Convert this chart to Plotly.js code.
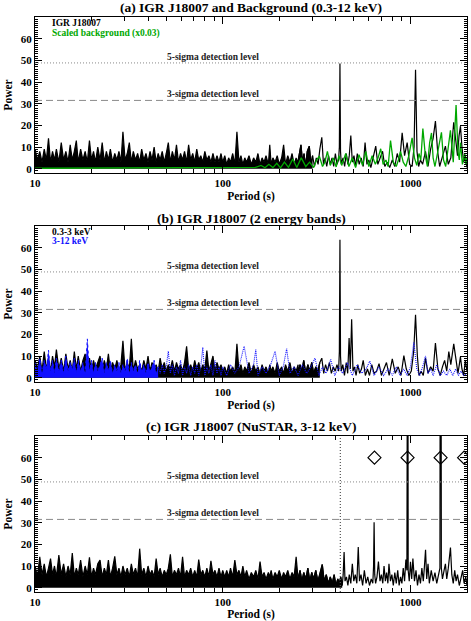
<!DOCTYPE html>
<html><head><meta charset="utf-8">
<script src="https://cdn.plot.ly/plotly-3.0.1.min.js"></script>
<style>html,body{margin:0;padding:0;background:#fff}#chart{width:471px;height:621px}</style>
</head><body><div id="chart"></div>
<script>
// ---- shared dense period grid (s) for the short-period part of each periodogram ----
const periodsDense = [10.0,10.3,10.6,10.9,11.2,11.5,11.8,12.1,12.4,12.7,13.0,13.4,13.8,14.2,14.6,15.0,15.4,15.8,16.2,16.6,17.0,17.5,18.0,18.5,19.0,19.5,20.0,20.5,21.0,21.6,22.2,22.8,23.4,24.0,24.6,25.2,25.9,26.6,27.3,28.0,28.7,29.4,30.2,31.0,31.8,32.6,33.4,34.3,35.2,36.1,37.0,38.0,39.0,40.0,41.0,42.0,43.1,44.2,45.3,46.4,47.6,48.8,50.0,51.3,52.6,53.9,55.3,56.7,58.1,59.6,61.1,62.6,64.2,65.8,67.5,69.2,70.9,72.7,74.5,76.4,78.3,80.3,82.3,84.4,86.5,88.7,90.9,93.2,95.5,97.9,100,102.5,105,107.5,110,113,116,119,122,125,128,131,134,138,142,146,150,154,158,162,166,170,175,178,181,185,190,195,200,206,211,216,222,228,234,240,246,252];

// ---- panel (a): IGR J18007 0.3-12 keV ----
const powerA_dense = [9,4,8,3,9,4,14,3,8,4, 9,3,12,4,8,3,11,4,8,13, 3,9,4,8,3,13,4,8,3,10, 4,12,3,8,4,9,3,7,4,8, 3,17,4,7,12,3,8,4,7,3, 9,4,7,3,8,4,10,3,7,4, 8,3,7,12,3,8,4,11,3,7, 4,8,3,11,4,7,3,9,4,6, 3,8,4,6,3,7,3,6,3,7, 3, 6,2,5,3,7,2,17,3,6,2, 5,3,6,2,5,3,7,2,5,3, 6,2,11,2,5,3,6,2,5,11, 2,6,3,7,2,5,2];
const periodsA = [250,255,261,266,271,276,282,289,295,301,308,315,322,329,337,344,351,358,366,374,382,390,398,406,414,418,421,424,428,437,446,455,464,472,481,490,500,510,521,533,546,560,573,586,600,615,630,653,670,690,710,730,752,775,800,825,850,875,903,930,960,990,1020,1045,1064,1083,1105,1130,1160,1202,1240,1280,1320,1358,1395,1430,1480,1535,1590,1640,1699,1740,1780,1813,1846,1880,1920,1960,2000];
const powerA = [2,6,11,3,7,1,8,10.4,2,6,1,5,2,9,14.5,2,5,1,6,2,5,1,7,2,4,10,48.5,8,2,5,1,7,2,6,15.3,3,6,1,7,2,5,1,12,2,4,0.5,5,10.4,2,5,8,1,3,0.5,4,1,7,3,16.5,6,12,2,1,10,45.6,8,1,4,2,8,1,9,14,22,8,1,6,10.4,2,5,21.4,12,6,15,19.6,10,3,6,0.5];
// scaled background (x0.03)
const periodsBkg = [10,30,60,100,130,150,160,168,176,185,194,203,213,224,236,248,262,277,290,305,316,327,340,350,361,374,388,402,416,430,452,470,490,510,532,555,578,600,625,650,672,694,715,740,760,783,810,840,862,885,915,945,980,1020,1050,1080,1110,1135,1164,1200,1230,1265,1294,1320,1350,1400,1462,1500,1540,1590,1632,1690,1749,1790,1820,1846,1890,1945,1975,2000];
const powerBkg = [0.2,0.3,0.3,0.4,0.5,0.6,1.5,0.4,2,0.5, 2.5,0.4,3,0.6,4.5,0.5,5,1,3,0.5, 4,5.8,1,3,8,1.5,5,0.8,6,1.5, 7,1,5,0.5,6.5,1.5,8,1,6,2, 5,9.2,2,4,1,13,3,1,4,8, 3,1,6,14.2,5,1.5,7,4,18.5,6, 1,12,16.5,5,1,9,16.8,4,1,10, 17.7,3,29.4,8,4,12,2,7,2,5];

// ---- panel (b): two energy bands ----
const powerB_soft_dense = [8,4,10,3,12,4,9,3,10,5, 13,4,9,3,11,4,8,3,12,4, 10,3,8,11,4,9,3,8,4,7, 10,3,8,4,11,3,7,4,8,3, 6,17,3,7,4,18,3,8,4,6, 3,8,4,10,3,7,4,6,3,9, 4,7,3,6,4,8,3,7,4,6, 3,7,14.5,4,6,3,8,4,7,3, 6,4,12.5,3,6,10,3,7,4,6, 3, 5,2,6,3,5,2,15.6,3,6,2, 5,3,7,2,6,3,5,2,6,3, 5,2,6,3,5,2,7,3,5,2, 6,3,7,2,5,3,6];
const periodsB_soft = [252,258,264,270,277,284,291,298,305,313,321,329,337,345,353,361,370,379,388,397,406,414,418,421,424,428,436,445,455,463,471,478,486,494,503,513,524,536,548,560,575,590,605,622,640,660,680,700,722,745,770,800,830,860,890,922,950,980,1010,1040,1064,1088,1110,1140,1170,1202,1240,1280,1320,1358,1400,1440,1480,1520,1560,1600,1640,1700,1750,1790,1820,1845,1880,1920,1960,2000];
const powerB_soft = [2,6,3,8,2,6,3,7,2,5,3,7,9,2,6,3,7,2,5,3,6,3,12,63.7,10,3,6,1,7,2,18.3,4,27,3,5,1,6,2,4,8,1,4,1,6,2,3,6.5,1,4,7,1,8.7,2,5,1,10.2,4,1,3,12,29,10,1,3,1,9,2,5,3,16,4,1,5,8,3,12,6,15.6,8,2,6,9.6,4,1,8,3];
const powerB_hard_dense = [7,3,9,2,8,4,12.7,3,8,2, 9,3,8,2,10,3,7,4,9,2, 8,3,7,2,17.9,3,8,2,7,3, 6,9,2,7,3,8,2,6,3,7, 2,6,3,9,2,7,3,6,2,8, 3,6,2,7,3,5,8,2,5];
const periodsB_hard = [45.3,46.4,47.6,48.8,50.0,51.3,52.6,53.9,55.3,56.7,58.1,59.6,61.1,62.6,64.2,65.8,67.5,69.2,70.9,72.7,74.5,76.4,78.3,80.3,82.3,84.4,86.5,88.7,90.9,93.2,95.5,97.9,100,105,110,116,122,130,138,146,150,154,162,170,180,190,200,210,219,228,240,252,265,280,295,310,325,340,355,376,395,415,435,462,490,520,550,580,607,640,680,720,760,800,840,880,920,960,1000,1042,1080,1120,1160,1202,1240,1280,1320,1380,1440,1500,1560,1620,1680,1740,1800,1860,1920,2000];
const powerB_hard = [5,2,6,2,5,12.2,2,6,1,5,2,8,1,5,2,6,1,5,2,6,1,5,14,1,5,2,6,1,8,2,5,1,5,1,6,2,5,14.5,2,6,13,1,5,2,6,12.2,1,5,13.4,2,5,1,6,2,5,9,1,5,2,8.4,1,5,2,7,1,6,2,4,7.6,1,5,1,4,1,5,1,4,1,5,16.3,4,1,5,10,2,4,1,6,1,3,1,4,1,4,1,3,1,2];

// ---- panel (c): NuSTAR 3-12 keV ----
const powerC_dense = [10,5,14.2,6,11,5,9,13.4,6,10, 5,15,6,11,5,10,6,16,5,9, 6,12.7,5,10,6,14,5,9,6,11, 12.7,5,9,6,12.7,5,9,14.5,6,9, 5,10,6,9,5,11,6,9,5,18, 6,9,5,10,6,8,5,13.4,6,9, 5,8,6,9,15.4,5,8,6,9,5, 14.2,5,8,6,9,5,8,5,13,6, 8,5,9,5,12.4,6,8,5,9,5, 8, 5,8,5,9,5,12.7,6,8,5,10, 5,8,4,7,5,8,4,12,5,7, 4,7,5,8,4,7,5,8,4,7, 5,8,4,7,5,14.2,4];
const periodsC = [252,258,264,270,277,284,291,298,305,313,321,329,339,347,356,365,374,383,392,401,410,418,425,433,438,443,448,456,464,472,481,490,499,508,518,527,535,545,556,568,580,592,605,618,630,636,640,645,652,663,675,688,700,712,723,735,746,758,768,782,796,810,825,840,855,870,885,900,915,930,945,957,962,967,972,985,1000,1015,1030,1050,1070,1090,1110,1130,1150,1170,1185,1203,1220,1240,1260,1290,1320,1350,1380,1410,1435,1443,1452,1460,1480,1510,1535,1560,1590,1633,1660,1690,1720,1750,1780,1820,1860,1897,1930,1970,2000];
const powerC = [4,8,3,7,4,9,3,7,4,8,3,6,10.7,3,6,2,5,2,6,1,4,2,5,1,6,16.5,3,5,1,6,2,11,3,6,2,18.8,3,6,1,8,2,5,1,4,2,10,30.2,6,2,5,12,3,6,2,10,3,7,2,11,3,6,1,7,2,8,1,5,2,9,3,13,8,200,200,8,3,12,4,13.5,3,8,1,6,2,9,3,9,17.5,4,11,2,8,3,7,2,6,9,200,200,9,4,8,11,4,9,18.5,6,2,8,3,6,1,5,8,2,5,1];
const harmonicPeriods = [643, 965, 1447, 1930];
const harmonicPower = [60, 60, 60, 60];
const markedPeriod = 423;

// ---- reference levels, ticks, labels ----
const sigma5 = 48.8, sigma3 = 31.5;
const xTickVals = [10, 100, 1000];
const xTickText = ['10', '100', '1000'];
const xMinorVals = [20,30,40,50,60,70,80,90,200,300,400,500,600,700,800,900,2000];
const yTickVals = [0, 10, 20, 30, 40, 50, 60];
const panelTitles = ['(a) IGR J18007 and Background (0.3-12 keV)', '(b) IGR J18007 (2 energy bands)', '(c) IGR J18007 (NuSTAR, 3-12 keV)'];
const legendA = ['IGR J18007', 'Scaled background (x0.03)'];
const legendB = ['0.3-3 keV', '3-12 keV'];

const FONT = 'Liberation Serif, Times New Roman, serif';
const GREEN = '#00a800', BLUE = '#1010ff';
const XD = [35/471, 467/471];
const YD = [[1-173/621, 1-17/621], [1-382/621, 1-226/621], [1-592/621, 1-436/621]];

// where the crowded (filled-looking) part of each periodogram ends, as a count of long-period samples
const crowdA = 10, crowdB = 12, crowdC = 24;

function xa(anchor) {
  return {type:'log', range:[1, Math.log10(2000)], domain:XD, anchor:anchor,
    tickmode:'array', tickvals:xTickVals, ticktext:xTickText,
    ticks:'inside', ticklen:7, tickwidth:1, tickcolor:'#000',
    minor:{tickmode:'array', tickvals:xMinorVals, ticks:'inside', ticklen:4, tickwidth:1, tickcolor:'#000', showgrid:false},
    showline:true, linecolor:'#000', linewidth:1, mirror:'ticks', showgrid:false, zeroline:false,
    tickfont:{family:FONT, size:11, color:'#000', weight:'bold'},
    title:{text:'Period (s)', font:{family:FONT, size:11.5, color:'#000', weight:'bold'}, standoff:3}};
}
function ya(anchor, dom) {
  return {range:[-2, 70], domain:dom, anchor:anchor,
    tickmode:'array', tickvals:yTickVals,
    ticks:'inside', ticklen:7, tickwidth:1, tickcolor:'#000',
    minor:{dtick:1, tick0:0, ticks:'inside', ticklen:3, tickwidth:1, tickcolor:'#000', showgrid:false},
    showline:true, linecolor:'#000', linewidth:1, mirror:'ticks', showgrid:false, zeroline:false,
    tickfont:{family:FONT, size:11, color:'#000', weight:'bold'},
    title:{text:'Power', font:{family:FONT, size:11.5, color:'#000', weight:'bold'}, standoff:5}};
}

const blk = {color:'#000', width:1.2};
const traces = [
  {x:periodsDense.concat(periodsA.slice(0, crowdA)), y:powerA_dense.concat(powerA.slice(0, crowdA)), xaxis:'x', yaxis:'y', mode:'lines', line:blk, fill:'tozeroy', fillcolor:'#000'},
  {x:periodsA, y:powerA, xaxis:'x', yaxis:'y', mode:'lines', line:blk},
  {x:periodsBkg, y:powerBkg, xaxis:'x', yaxis:'y', mode:'lines', line:{color:GREEN, width:1.3}},

  {x:periodsDense.concat(periodsB_soft.slice(0, crowdB)), y:powerB_soft_dense.concat(powerB_soft.slice(0, crowdB)), xaxis:'x2', yaxis:'y2', mode:'lines', line:blk, fill:'tozeroy', fillcolor:'#000'},
  {x:periodsB_soft, y:powerB_soft, xaxis:'x2', yaxis:'y2', mode:'lines', line:blk},
  {x:periodsDense.slice(0, powerB_hard_dense.length), y:powerB_hard_dense, xaxis:'x2', yaxis:'y2', mode:'lines', line:{color:BLUE, width:1, dash:'dot'}, fill:'tozeroy', fillcolor:BLUE},
  {x:periodsB_hard, y:powerB_hard, xaxis:'x2', yaxis:'y2', mode:'lines', line:{color:BLUE, width:1.1, dash:'1px,1px'}},

  {x:periodsDense.concat(periodsC.slice(0, crowdC)), y:powerC_dense.concat(powerC.slice(0, crowdC)), xaxis:'x3', yaxis:'y3', mode:'lines', line:blk, fill:'tozeroy', fillcolor:'#000'},
  {x:periodsC, y:powerC, xaxis:'x3', yaxis:'y3', mode:'lines', line:blk},
  {x:harmonicPeriods, y:harmonicPower, xaxis:'x3', yaxis:'y3', mode:'markers', marker:{symbol:'diamond-open', size:10, color:'#000', line:{width:1.2, color:'#000'}}}
];

const shapes = [], annotations = [];
['', '2', '3'].forEach((s, i) => {
  shapes.push({type:'line', xref:'x'+s+' domain', x0:0, x1:1, yref:'y'+s, y0:sigma5, y1:sigma5, line:{color:'#8a8a8a', width:1, dash:'1px,2px'}});
  shapes.push({type:'line', xref:'x'+s+' domain', x0:0, x1:1, yref:'y'+s, y0:sigma3, y1:sigma3, line:{color:'#8a8a8a', width:1, dash:'7px,4px'}});
  annotations.push({xref:'paper', yref:'y'+s, x:213/471, y:sigma5, yshift:6, text:'<b>5-sigma detection level</b>', showarrow:false, xanchor:'center', yanchor:'middle', font:{family:FONT, size:9.5, color:'#222'}});
  annotations.push({xref:'paper', yref:'y'+s, x:213/471, y:sigma3, yshift:6, text:'<b>3-sigma detection level</b>', showarrow:false, xanchor:'center', yanchor:'middle', font:{family:FONT, size:9.5, color:'#222'}});
  annotations.push({xref:'paper', yref:'paper', x:251/471, y:[1-8/621, 1-218/621, 1-427/621][i], text:'<b>'+panelTitles[i]+'</b>', showarrow:false, xanchor:'center', yanchor:'middle', font:{family:FONT, size:13.5, color:'#000'}});
});
shapes.push({type:'line', xref:'x3', x0:markedPeriod, x1:markedPeriod, yref:'y3 domain', y0:0, y1:1, line:{color:'#555', width:1.2, dash:'1px,2px'}});

annotations.push({xref:'paper', yref:'paper', x:50/471, y:1-23.3/621, text:'<b>'+legendA[0]+'</b>', showarrow:false, xanchor:'left', yanchor:'middle', font:{family:FONT, size:9.5, color:'#000'}});
annotations.push({xref:'paper', yref:'paper', x:50/471, y:1-33.3/621, text:'<b>'+legendA[1]+'</b>', showarrow:false, xanchor:'left', yanchor:'middle', font:{family:FONT, size:9.5, color:GREEN}});
annotations.push({xref:'paper', yref:'paper', x:50/471, y:1-232/621, text:'<b>'+legendB[0]+'</b>', showarrow:false, xanchor:'left', yanchor:'middle', font:{family:FONT, size:9.5, color:'#000'}});
annotations.push({xref:'paper', yref:'paper', x:50/471, y:1-241.5/621, text:'<b>'+legendB[1]+'</b>', showarrow:false, xanchor:'left', yanchor:'middle', font:{family:FONT, size:9.5, color:BLUE}});

const layout = {
  width:471, height:621, margin:{l:0, r:0, t:0, b:0},
  paper_bgcolor:'#fff', plot_bgcolor:'#fff', showlegend:false,
  xaxis:xa('y'), yaxis:ya('x', YD[0]),
  xaxis2:xa('y2'), yaxis2:ya('x2', YD[1]),
  xaxis3:xa('y3'), yaxis3:ya('x3', YD[2]),
  shapes:shapes, annotations:annotations
};
Plotly.newPlot('chart', traces, layout, {staticPlot:true, displayModeBar:false});
</script></body></html>
